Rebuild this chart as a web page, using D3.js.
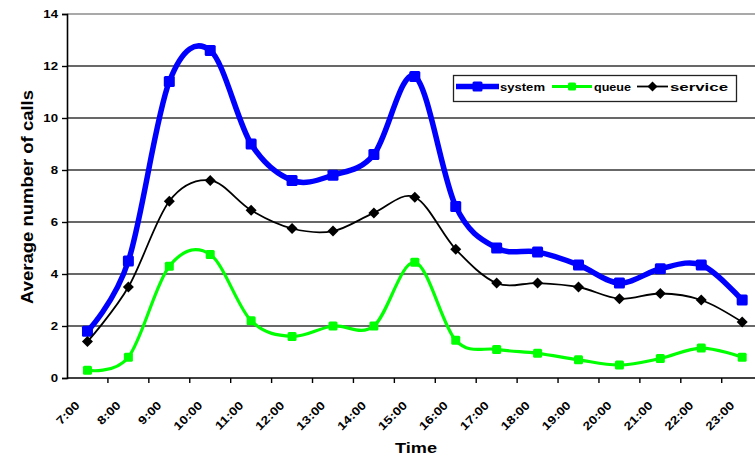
<!DOCTYPE html>
<html>
<head>
<meta charset="utf-8">
<script src="https://cdn.jsdelivr.net/npm/d3@7"></script>
<style>
  html, body { margin: 0; padding: 0; background: #fff; overflow: hidden; }
  svg { display: block; font-family: Arial, "Liberation Sans", sans-serif; }
</style>
</head>
<body>
<svg id="chart" width="755" height="459"></svg>
<script>
// Hourly categories along the x axis
const hours = ["7:00","8:00","9:00","10:00","11:00","12:00","13:00","14:00","15:00",
               "16:00","17:00","18:00","19:00","20:00","21:00","22:00","23:00"];

// Average number of calls per hour, one array per series
const systemCalls  = [1.8, 4.5, 11.4, 12.6, 9.0, 7.6, 7.8, 8.6, 11.6, 6.6, 5.0, 4.85, 4.35, 3.65, 4.2, 4.35, 3.0];
const queueCalls   = [0.3, 0.8, 4.3, 4.75, 2.2, 1.6, 2.0, 2.0, 4.45, 1.45, 1.1, 0.95, 0.7, 0.5, 0.75, 1.15, 0.8];
const serviceCalls = [1.4, 3.5, 6.8, 7.6, 6.45, 5.75, 5.65, 6.35, 6.95, 4.95, 3.65, 3.65, 3.5, 3.05, 3.25, 3.0, 2.15];

const yTicks = [0, 2, 4, 6, 8, 10, 12, 14];

const seriesNames = ["system", "queue", "service"];

const svg = d3.select("#chart");

const plotLeft = 67, plotTop = 14, plotBottom = 378, band = 40.92;
const x = d3.scaleBand().domain(hours).range([plotLeft, plotLeft + band * hours.length]).padding(0);
const y = d3.scaleLinear().domain([0, 14]).range([plotBottom, plotTop]);

// Widen glyphs horizontally to get the broad, heavy lettering
function stretch(sel, k) {
  sel.each(function () {
    const w = this.getComputedTextLength();
    d3.select(this).attr("textLength", w * k).attr("lengthAdjust", "spacingAndGlyphs");
  });
}

// Horizontal gridlines
svg.append("g").selectAll("line")
  .data(yTicks.filter(d => d > 0))
  .join("line")
  .attr("x1", plotLeft).attr("x2", 755)
  .attr("y1", d => y(d)).attr("y2", d => y(d))
  .attr("stroke", d => d === 14 ? "#8c8c8c" : "#363636")
  .attr("stroke-width", 1.7);

// Y axis
const yAxis = svg.append("g")
  .attr("transform", `translate(${plotLeft},0)`)
  .call(d3.axisLeft(y).tickValues(yTicks).tickSize(5).tickPadding(4).tickFormat(d3.format("d")));
yAxis.select(".domain").attr("stroke", "#000").attr("stroke-width", 1.6);
yAxis.selectAll(".tick line").attr("stroke", "#000").attr("stroke-width", 1.4);
yAxis.selectAll(".tick text")
  .attr("font-size", 11).attr("font-weight", "bold").attr("fill", "#000")
  .call(stretch, 1.2);

// X axis: ticks at category boundaries, labels rotated
const xAxis = svg.append("g").attr("transform", `translate(0,${plotBottom})`);
xAxis.append("line")
  .attr("x1", plotLeft).attr("x2", 755).attr("y1", 0).attr("y2", 0)
  .attr("stroke", "#000").attr("stroke-width", 1.6);
xAxis.selectAll("line.tick")
  .data(hours)
  .join("line").attr("class", "tick")
  .attr("x1", d => x(d) + x.bandwidth()).attr("x2", d => x(d) + x.bandwidth())
  .attr("y1", 0).attr("y2", 5)
  .attr("stroke", "#000").attr("stroke-width", 1.4);
xAxis.selectAll("text")
  .data(hours)
  .join("text")
  .attr("transform", d => `translate(${x(d) + x.bandwidth() / 2 - 7},${28}) rotate(-45)`)
  .attr("text-anchor", "end")
  .attr("font-size", 11.5).attr("font-weight", "bold").attr("fill", "#000")
  .text(d => d)
  .call(stretch, 1.2);

// Axis titles
svg.append("text")
  .attr("transform", "translate(33,197) rotate(-90)")
  .attr("text-anchor", "middle")
  .attr("font-size", 16.5).attr("font-weight", "bold")
  .attr("textLength", 214).attr("lengthAdjust", "spacingAndGlyphs")
  .text("Average number of calls");

svg.append("text")
  .attr("x", 416).attr("y", 453)
  .attr("text-anchor", "middle")
  .attr("font-size", 14).attr("font-weight", "bold")
  .attr("textLength", 42).attr("lengthAdjust", "spacingAndGlyphs")
  .text("Time");

// Series drawing
const cx = i => x(hours[i]) + x.bandwidth() / 2;
const smooth = d3.line().x((d, i) => cx(i)).y(d => y(d)).curve(d3.curveCatmullRom.alpha(0));

const styles = {
  system:  { data: systemCalls,  color: "#0000ff", width: 5.5, marker: "square", size: 11 },
  queue:   { data: queueCalls,   color: "#00ff00", width: 3.2, marker: "square", size: 9 },
  service: { data: serviceCalls, color: "#000000", width: 1.8, marker: "diamond", size: 11 }
};

function drawMarker(g, kind, px, py, size, color) {
  if (kind === "square") {
    g.append("rect")
      .attr("x", px - size / 2).attr("y", py - size / 2)
      .attr("width", size).attr("height", size)
      .attr("rx", 1.5)
      .attr("fill", color);
  } else {
    const h = size / 2;
    g.append("path")
      .attr("d", `M${px},${py - h}L${px + h},${py}L${px},${py + h}L${px - h},${py}Z`)
      .attr("fill", color);
  }
}

seriesNames.forEach(name => {
  const s = styles[name];
  const g = svg.append("g");
  g.append("path")
    .attr("d", smooth(s.data))
    .attr("fill", "none")
    .attr("stroke", s.color)
    .attr("stroke-width", s.width)
    .attr("stroke-linejoin", "round");
  s.data.forEach((v, i) => drawMarker(g, s.marker, cx(i), y(v), s.size, s.color));
});

// Legend
const legend = svg.append("g");
legend.append("rect")
  .attr("x", 453.5).attr("y", 75.5).attr("width", 283).attr("height", 26)
  .attr("fill", "#fff").attr("stroke", "#222").attr("stroke-width", 1.3);

const legendItems = [
  { name: "system",  x1: 456, x2: 499, tx: 500, tw: 45 },
  { name: "queue",   x1: 552, x2: 592, tx: 594, tw: 37 },
  { name: "service", x1: 637, x2: 668, tx: 670, tw: 58 }
];
legendItems.forEach(it => {
  const s = styles[it.name];
  const ly = 86.5;
  legend.append("line")
    .attr("x1", it.x1).attr("x2", it.x2).attr("y1", ly).attr("y2", ly)
    .attr("stroke", s.color).attr("stroke-width", s.width);
  drawMarker(legend, s.marker, (it.x1 + it.x2) / 2, ly, s.size - 1, s.color);
  legend.append("text")
    .attr("x", it.tx).attr("y", ly + 4)
    .attr("font-size", 10.5).attr("font-weight", "bold")
    .attr("textLength", it.tw).attr("lengthAdjust", "spacingAndGlyphs")
    .text(it.name);
});
</script>
</body>
</html>
